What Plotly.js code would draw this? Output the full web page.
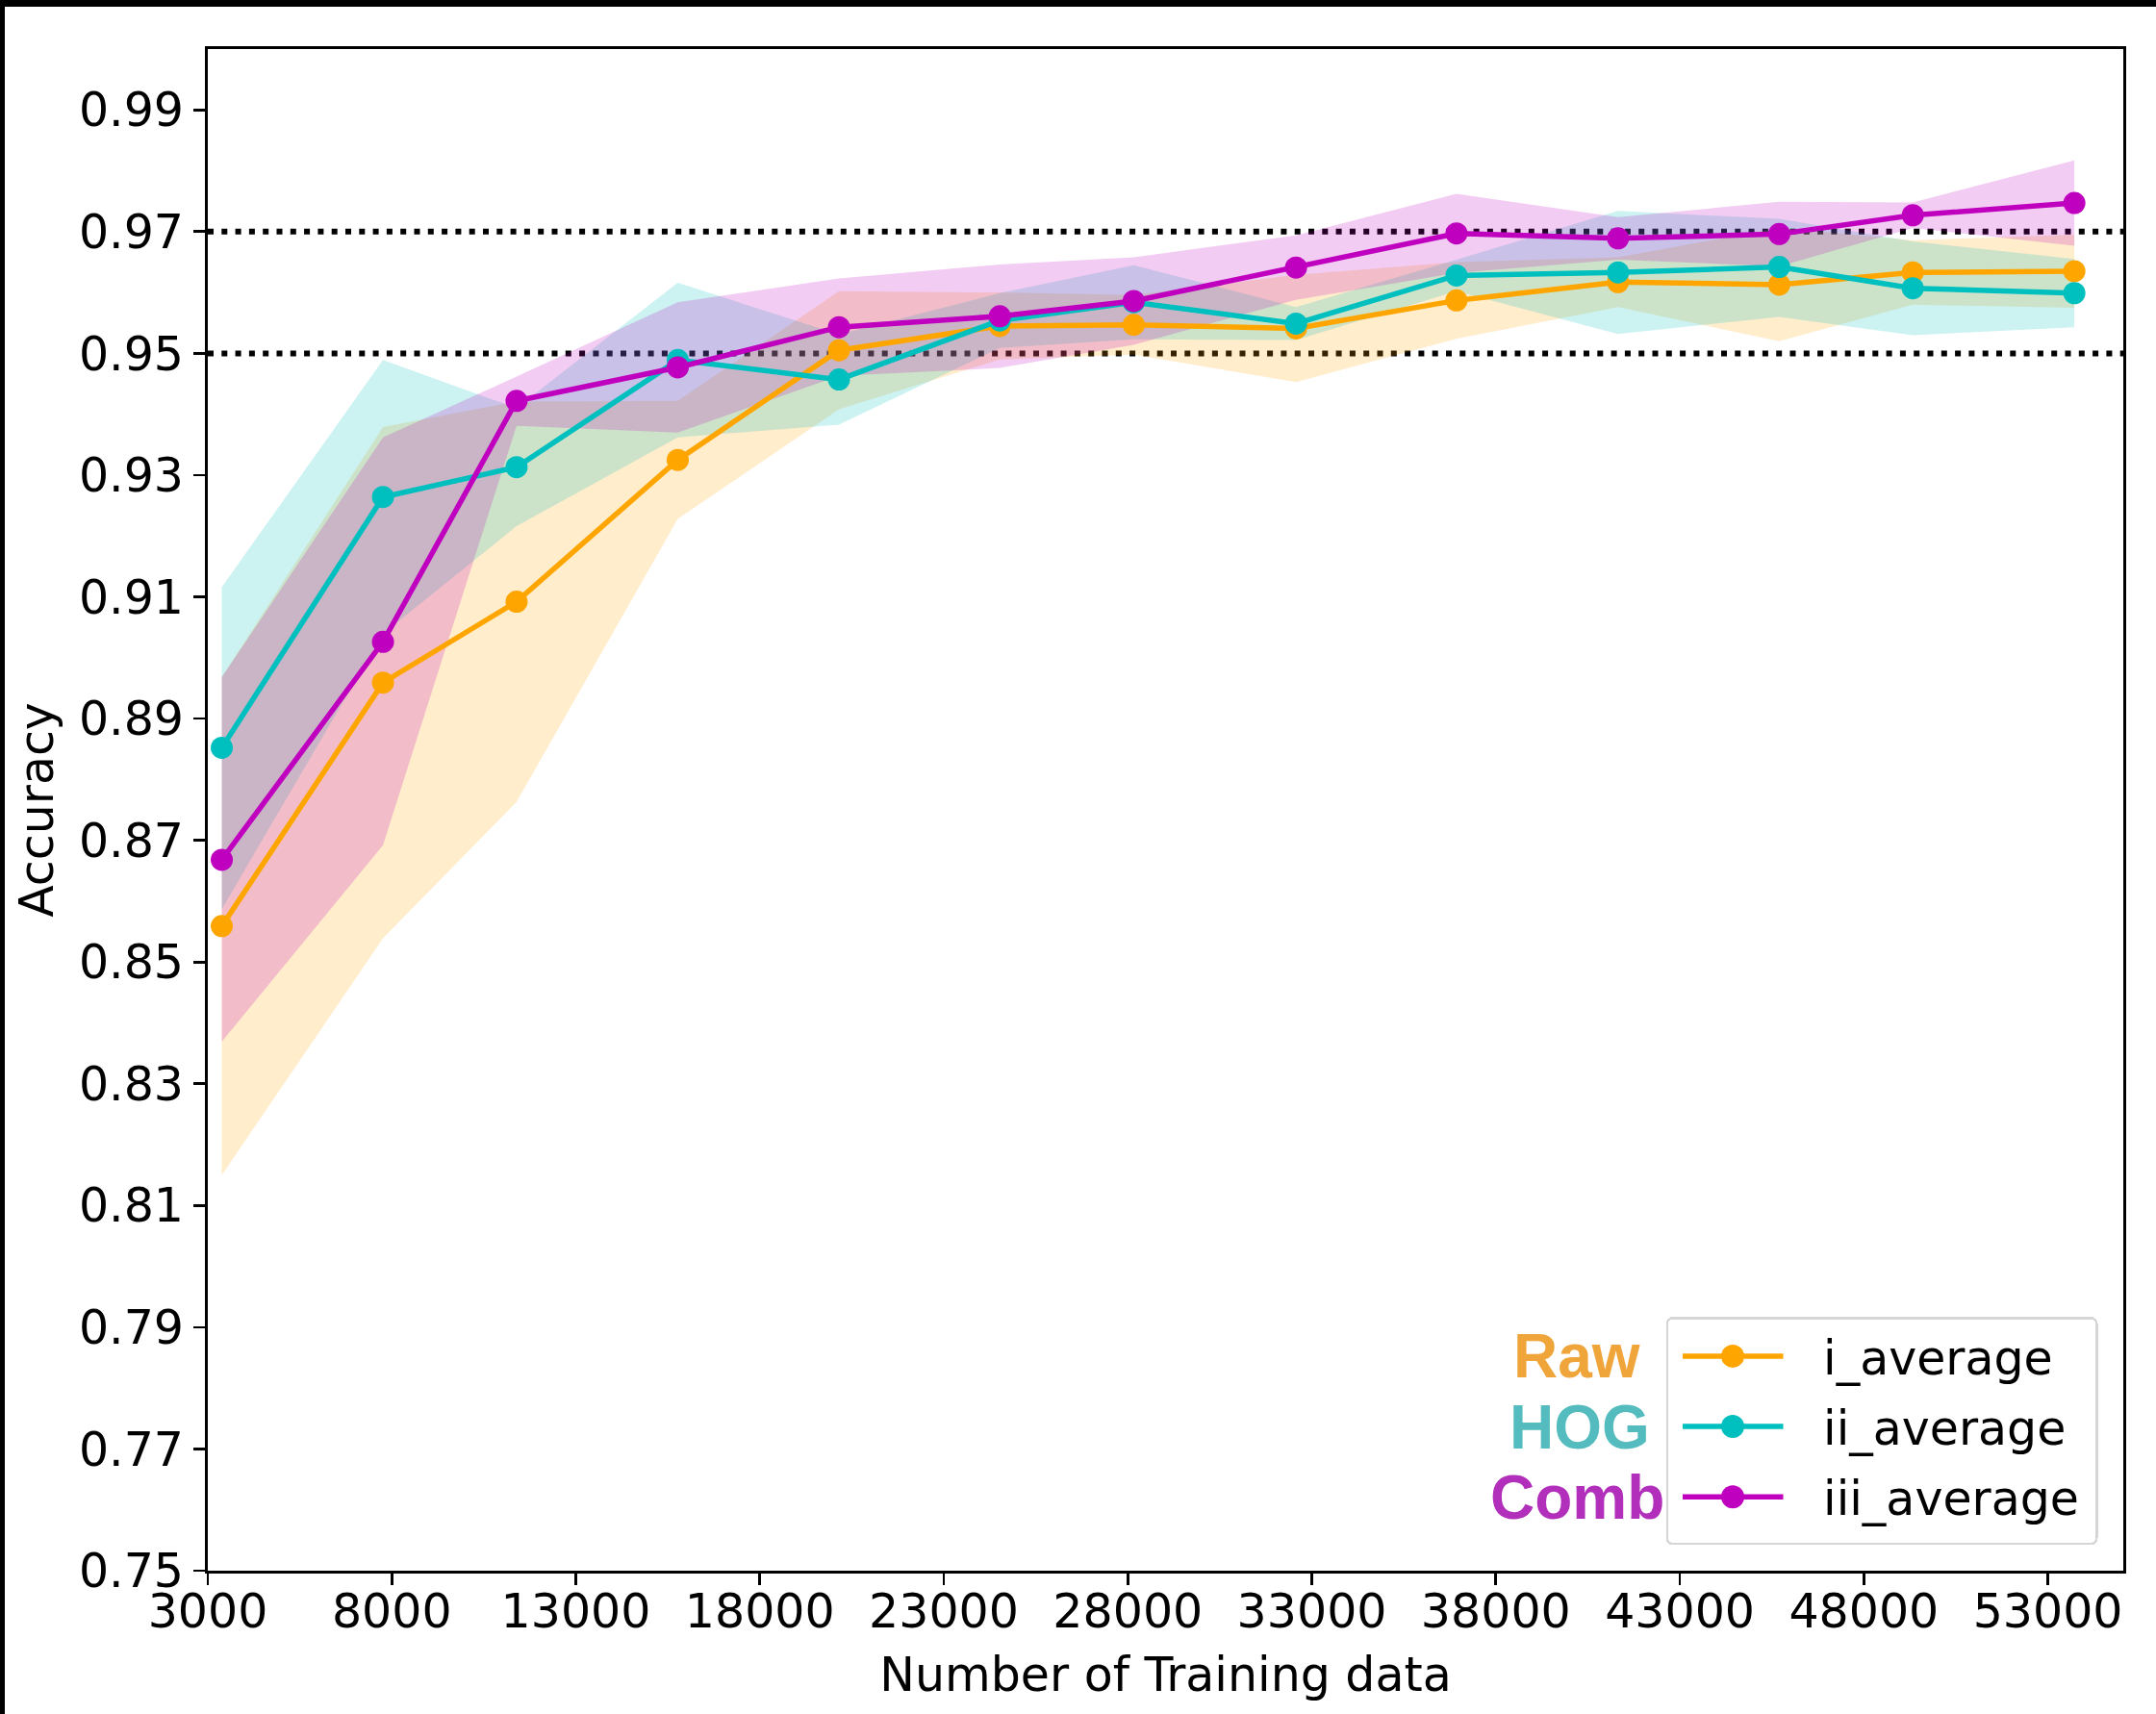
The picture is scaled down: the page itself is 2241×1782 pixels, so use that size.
<!DOCTYPE html>
<html><head><meta charset="utf-8">
<script src="https://cdn.plot.ly/plotly-3.0.1.min.js"></script>
<style>
html,body{margin:0;padding:0;background:#fff;}
#chart{width:2241px;height:1782px;position:absolute;left:0;top:0;}
.frame{position:absolute;background:#000;z-index:10;}
</style>
</head><body>
<div id="chart"></div>
<div class="frame" style="left:0;top:0;width:2241px;height:7px"></div>
<div class="frame" style="left:0;top:0;width:5px;height:1782px"></div>
<script>
// ---- data ----
const trainSizes = [3380, 7760, 11390, 15770, 20150, 24520, 28160, 32570, 36930, 41320, 45700, 49330, 53720];

const rawMean  = [0.8559, 0.8959, 0.9092, 0.9325, 0.9505, 0.9545, 0.9547, 0.9541, 0.9587, 0.9617, 0.9613, 0.9633, 0.9635];
const rawLower = [0.8150, 0.8539, 0.8763, 0.9228, 0.9408, 0.9490, 0.9498, 0.9453, 0.9524, 0.9576, 0.9520, 0.9580, 0.9575];
const rawUpper = [0.8968, 0.9379, 0.9421, 0.9422, 0.9602, 0.9600, 0.9596, 0.9629, 0.9650, 0.9658, 0.9706, 0.9686, 0.9695];

const hogMean  = [0.8852, 0.9264, 0.9313, 0.9489, 0.9457, 0.9554, 0.9584, 0.9549, 0.9628, 0.9633, 0.9642, 0.9607, 0.9599];
const hogLower = [0.8587, 0.9039, 0.9216, 0.9362, 0.9383, 0.9509, 0.9523, 0.9522, 0.9602, 0.9532, 0.9560, 0.9530, 0.9543];
const hogUpper = [0.9116, 0.9489, 0.9410, 0.9616, 0.9531, 0.9599, 0.9645, 0.9576, 0.9654, 0.9734, 0.9721, 0.9684, 0.9655];

const combMean  = [0.8668, 0.9026, 0.9422, 0.9477, 0.9543, 0.9561, 0.9586, 0.9641, 0.9697, 0.9689, 0.9696, 0.9727, 0.9747];
const combLower = [0.8369, 0.8692, 0.9381, 0.9370, 0.9463, 0.9476, 0.9514, 0.9588, 0.9632, 0.9654, 0.9643, 0.9706, 0.9677];
const combUpper = [0.8968, 0.9362, 0.9462, 0.9584, 0.9623, 0.9646, 0.9658, 0.9694, 0.9762, 0.9724, 0.9749, 0.9748, 0.9817];

const seriesNames = ['i_average', 'ii_average', 'iii_average'];
const sideLabels = ['Raw', 'HOG', 'Comb'];
const refLines = [0.95, 0.97];

const xTickVals = [3000, 8000, 13000, 18000, 23000, 28000, 33000, 38000, 43000, 48000, 53000];
const xTickText = ['3000','8000','13000','18000','23000','28000','33000','38000','43000','48000','53000'];
const yTickVals = [0.75, 0.77, 0.79, 0.81, 0.83, 0.85, 0.87, 0.89, 0.91, 0.93, 0.95, 0.97, 0.99];
const yTickText = ['0.75','0.77','0.79','0.81','0.83','0.85','0.87','0.89','0.91','0.93','0.95','0.97','0.99'];
const xRange = [3000, 55050];
const yRange = [0.75, 1.0];

// ---- styling ----
const lineColors = ['#FFA500', '#00BFBF', '#BF00BF'];
const fillColors = ['rgba(255,165,0,0.2)', 'rgba(0,191,191,0.2)', 'rgba(191,0,191,0.2)'];
const sideColors = ['#f0a53b', '#54bcbe', '#b12fba'];
const FONT = 'DejaVu Sans, sans-serif';

const means = [rawMean, hogMean, combMean];
const lowers = [rawLower, hogLower, combLower];
const uppers = [rawUpper, hogUpper, combUpper];

const traces = [];
for (let i = 0; i < 3; i++) {
  traces.push({
    x: trainSizes, y: lowers[i], type: 'scatter', mode: 'lines',
    line: {width: 0, color: 'rgba(0,0,0,0)'}, showlegend: false, hoverinfo: 'skip'
  });
  traces.push({
    x: trainSizes, y: uppers[i], type: 'scatter', mode: 'lines', fill: 'tonexty',
    fillcolor: fillColors[i], line: {width: 0, color: 'rgba(0,0,0,0)'},
    showlegend: false, hoverinfo: 'skip'
  });
}
for (let i = 0; i < 3; i++) {
  traces.push({
    x: trainSizes, y: means[i], type: 'scatter', mode: 'lines+markers',
    name: seriesNames[i], legendgroup: 'g' + i,
    line: {color: lineColors[i], width: 5.5},
    marker: {color: lineColors[i], size: 23}
  });
}

const shapes = refLines.map(v => ({
  type: 'line', xref: 'paper', x0: 0, x1: 1, yref: 'y', y0: v, y1: v,
  line: {color: '#000', width: 6, dash: '6px,8.3px'}, layer: 'below'
}));

const sideX = [0.6805, 0.6786, 0.6685];
const sideY = [0.1408, 0.0943, 0.0479];
const annotations = sideLabels.map((t, i) => ({
  text: '<b>' + t + '</b>', xref: 'paper', yref: 'paper', x: sideX[i], y: sideY[i],
  xanchor: 'left', yanchor: 'middle', showarrow: false,
  font: {family: 'Liberation Sans, Arial, sans-serif', size: 64, color: sideColors[i]}
}));

const axisCommon = {
  showline: true, linecolor: '#000', linewidth: 2.7, mirror: true,
  ticks: 'outside', ticklen: 12.5, tickwidth: 2.7, tickcolor: '#000',
  showgrid: false, zeroline: false, tickfont: {family: FONT, size: 49, color: '#000'}
};

const layout = {
  width: 2241, height: 1782,
  margin: {l: 216, r: 34, t: 51, b: 149},
  paper_bgcolor: '#fff', plot_bgcolor: '#fff',
  font: {family: FONT, size: 49, color: '#000'},
  xaxis: Object.assign({}, axisCommon, {
    range: xRange, tickmode: 'array', tickvals: xTickVals, ticktext: xTickText,
    ticklabelstandoff: -15,
    title: {text: 'Number of Training data', font: {family: FONT, size: 49, color: '#000'}, standoff: 21}
  }),
  yaxis: Object.assign({}, axisCommon, {
    range: yRange, tickmode: 'array', tickvals: yTickVals, ticktext: yTickText,
    title: {text: 'Accuracy', font: {family: FONT, size: 49, color: '#000'}, standoff: 11}
  }),
  shapes: shapes,
  annotations: annotations,
  showlegend: true,
  legend: {
    x: 0.9867, y: 0.0221, xanchor: 'right', yanchor: 'bottom',
    bgcolor: 'rgba(255,255,255,0.8)', bordercolor: '#d6d6d6', borderwidth: 2.5,
    font: {family: FONT, size: 49, color: '#000'}, tracegroupgap: 6.5, itemwidth: 163
  }
};

// legend symbol geometry (px, relative to the legend item origin)
const LEG_LINE_START = 15, LEG_LINE_LEN = 104.5, LEG_MARK_X = 67, LEG_MARK_R = 12, LEG_TEXT_X = 161;
const LEG_EXTRA_BOTTOM = 8.4, LEG_CORNER = 6;

Plotly.newPlot('chart', traces, layout, {staticPlot: true}).then(gd => {
  const r = LEG_MARK_R;
  const circ = 'M' + r + ',0A' + r + ',' + r + ' 0 1,1 0,-' + r + 'A' + r + ',' + r + ' 0 0,1 ' + r + ',0Z';
  gd.querySelectorAll('.legend .traces').forEach(tr => {
    tr.querySelectorAll('.legendlines path').forEach(p => {
      p.setAttribute('d', 'M' + LEG_LINE_START + ',0h' + LEG_LINE_LEN);
      p.style.strokeWidth = '5.5px';
    });
    tr.querySelectorAll('.legendpoints path').forEach(p => {
      p.setAttribute('transform', 'translate(' + LEG_MARK_X + ',0)');
      p.setAttribute('d', circ);
    });
    const tx = tr.querySelector('text.legendtext');
    if (tx) {
      tx.setAttribute('x', LEG_TEXT_X);
      tx.querySelectorAll('tspan').forEach(s => { if (s.hasAttribute('x')) s.setAttribute('x', LEG_TEXT_X); });
    }
  });
  const bg = gd.querySelector('.legend rect.bg');
  if (bg) {
    bg.setAttribute('height', parseFloat(bg.getAttribute('height')) + LEG_EXTRA_BOTTOM);
    bg.setAttribute('rx', LEG_CORNER);
    bg.setAttribute('ry', LEG_CORNER);
  }
});
</script>
</body></html>
